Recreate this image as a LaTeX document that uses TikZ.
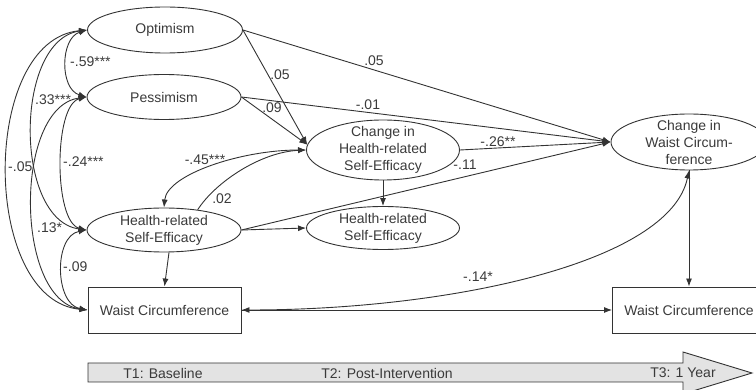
\documentclass[tikz,border=0pt]{standalone}
\usepackage{fontspec}
\setmainfont{Liberation Sans}
\usetikzlibrary{arrows.meta,shapes.geometric,calc}

\definecolor{ink}{HTML}{333333}
\definecolor{txt}{HTML}{3A3A3A}
\definecolor{barfill}{HTML}{E3E3E3}

\begin{document}
\begin{tikzpicture}[x=1pt,y=-1pt,
  >={Latex[length=8pt,width=6pt]},
  every node/.style={font=\fontsize{14}{17}\selectfont, text=txt},
  oval/.style={draw=ink, line width=0.9pt, ellipse, inner xsep=0pt, inner ysep=-4pt, align=center},
  varbox/.style={draw=ink, line width=0.9pt, rectangle, minimum width=153pt, minimum height=46pt, inner sep=0pt},
  conn/.style={draw=ink, line width=0.9pt, ->},
  cov/.style={draw=ink, line width=0.9pt, <->},
  coef/.style={inner sep=0pt}
]
\useasboundingbox (0,0) rectangle (756,390);

% latent and observed variables
\node[oval, minimum width=155pt, minimum height=46pt] (opt) at (165,30) {Optimism};
\node[oval, minimum width=154pt, minimum height=45pt] (pes) at (164,97) {Pessimism};
\node[oval, minimum width=153pt, minimum height=60pt] (chse) at (383,150) {Change in\\Health-related\\Self-Efficacy};
\node[oval, minimum width=154pt, minimum height=44pt] (hse1) at (164,230) {Health-related\\Self-Efficacy};
\node[oval, minimum width=153pt, minimum height=43pt] (hse2) at (383,228) {Health-related\\Self-Efficacy};
\node[oval, minimum width=156pt, minimum height=56pt] (cwc) at (689,142) {Change in\\Waist Circum-\\ference};
\node[varbox] (box1) at (164.5,310) {Waist Circumference};
\node[varbox] (box2) at (689,310) {Waist Circumference};

% directed paths
\draw[conn] (opt.east) -- (cwc.west);
\draw[conn] (opt.east) -- (chse.176);
\draw[conn] (pes.east) -- (chse.176);
\draw[conn] (pes.east) -- (cwc.west);
\draw[conn] (chse.east) -- (cwc.west);
\draw[conn] (hse1.east) -- (cwc.west);
\draw[conn] (hse1.east) -- (hse2.west);
\draw[conn] (chse.south) -- (hse2.north);
\draw[conn] ([xshift=5pt]hse1.south) -- (box1.north);
\draw[conn] (cwc.south) -- (box2.north);
\draw[conn] (box1.east) -- (box2.west);
\draw[conn] (hse1.31) .. controls ($(hse1.31)+(18,-28)$) and ($(chse.west)+(-45,2)$) .. (chse.west);

% covariances
\draw[cov] (hse1.north) .. controls ($(hse1.north)+(3,-33)$) and ($(chse.west)+(-65,0)$) .. (chse.west);
\draw[cov] (box1.east) .. controls ($(box1.east)+(209,0)$) and ($(cwc.south)+(-19,92)$) .. (cwc.south);
\draw[cov] (opt.west) .. controls ($(opt.west)+(-27,8)$) and ($(pes.west)+(-27,-8)$) .. (pes.west);
\draw[cov] (opt.west) .. controls ($(opt.west)+(-73,10)$) and ($(hse1.west)+(-73,-10)$) .. (hse1.west);
\draw[cov] (opt.west) .. controls ($(opt.west)+(-107,10)$) and ($(box1.west)+(-107,-10)$) .. (box1.west);
\draw[cov] (pes.west) .. controls ($(pes.west)+(-33,8)$) and ($(hse1.west)+(-33,-8)$) .. (hse1.west);
\draw[cov] (pes.west) .. controls ($(pes.west)+(-73,10)$) and ($(box1.west)+(-73,-10)$) .. (box1.west);
\draw[cov] (hse1.west) .. controls ($(hse1.west)+(-33,6)$) and ($(box1.west)+(-33,-6)$) .. (box1.west);

% coefficients
\node[coef, anchor=west] (k-op) at (70,62) {-.59***};
\node[coef, anchor=west] (k-oh) at (35,100) {.33***};
\node[coef, anchor=west] (k-ob) at (8,167) {-.05};
\node[coef, anchor=west] (k-ph) at (63,162) {-.24***};
\node[coef, anchor=west] (k-pb) at (37,228) {.13*};
\node[coef, anchor=west] (k-hb) at (63,267) {-.09};
\node[coef] (k-oc) at (280,75) {.05};
\node[coef] (k-ow) at (374,61) {.05};
\node[coef] (k-pc) at (272,108) {.09};
\node[coef] (k-pw) at (368,105) {-.01};
\node[coef] (k-cw) at (498,142) {-.26**};
\node[coef] (k-hw) at (465,165) {-.11};
\node[coef] (k-hc) at (205,160) {-.45***};
\node[coef] (k-hd) at (222,199) {.02};
\node[coef] (k-bw) at (478,277) {-.14*};

% time line
\draw[draw=ink, fill=barfill, line width=0.9pt] (88,363) -- (683,363) -- (683,352) -- (752,373) -- (683,394) -- (683,382) -- (88,382) -- cycle;
\node (t1) at (163,373) {T1: Baseline};
\node (t2) at (387,373) {T2: Post-Intervention};
\node (t3) at (683,373) {T3: 1 Year};
\end{tikzpicture}
\end{document}
